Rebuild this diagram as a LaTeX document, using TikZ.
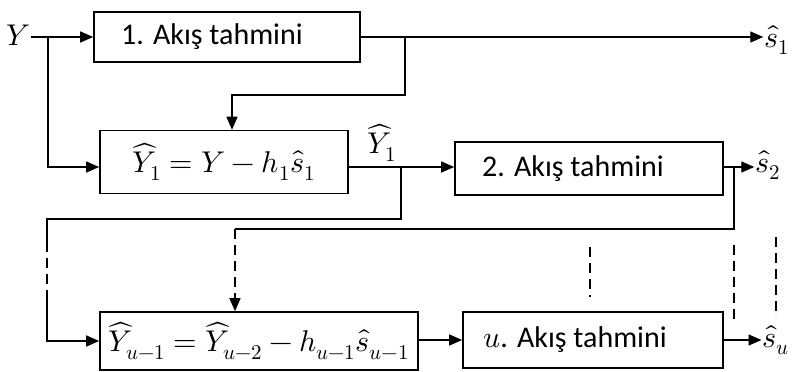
\documentclass[tikz,border=0pt]{standalone}
\usepackage{fontspec}
\usepackage{unicode-math}
\setmainfont{Carlito}
\setmathfont{Latin Modern Math}
\usetikzlibrary{arrows.meta,calc}
\begin{document}
\begin{tikzpicture}[x=1pt,y=-1pt,
  every node/.style={font=\fontsize{30}{34}\selectfont},
  blk/.style={draw,line width=1.6pt,inner sep=0pt},
  conn/.style={line width=1.4pt},
  arr/.style={conn,-{Triangle[length=13pt,width=11pt]}},
  dsh/.style={line width=1.4pt,dash pattern=on 10pt off 6pt}]
\useasboundingbox (0,0) rectangle (795,372);
% blocks
\node[blk,minimum width=266pt,minimum height=50pt] (b1) at (227,37) {1. Akış tahmini\rule{30pt}{0pt}};
\node[blk,minimum width=248pt,minimum height=63pt] (b2) at (224,162) {$\widehat{Y}_1=Y-h_1\hat{s}_1$};
\node[blk,minimum width=268pt,minimum height=53pt] (b3) at (589,168.5) {2. Akış tahmini\rule{32pt}{0pt}};
\node[blk,minimum width=318pt,minimum height=58pt] (b4) at (259,341) {$\widehat{Y}_{u-1}=\widehat{Y}_{u-2}-h_{u-1}\hat{s}_{u-1}$};
\node[blk,minimum width=260pt,minimum height=56pt] (b5) at (593,340) {$u$. Akış tahmini\rule{36pt}{0pt}};
% labels
\node[inner sep=1pt] (Y) at (18,35) {$Y$};
\node[inner sep=1pt] (s1) at (777,40) {$\hat{s}_1$};
\node[inner sep=1pt] (Y1) at (382,143) {$\widehat{Y}_1$};
\node[inner sep=1pt] (s2) at (768,165) {$\hat{s}_2$};
\node[inner sep=1pt] (su) at (776,340) {$\hat{s}_u$};
% junction coordinates
\coordinate (j1) at (48,37);
\coordinate (j2) at (405,37);
\coordinate (j2b) at (405,95);
\coordinate (j3) at (401,167);
\coordinate (j3b) at (401,219);
\coordinate (j3c) at (47,219);
\coordinate (j3d) at (47,242);
\coordinate (j3e) at (47,297);
\coordinate (j4) at (734,167);
\coordinate (j4b) at (734,229);
\coordinate (j4c) at (235,229);
% connectors
\draw[arr] (Y.east |- j1) -- (b1.west |- j1);
\draw[arr] (j1) |- (b2.west |- 0,167);
\draw[arr] (b1.east |- j1) -- (s1.west |- j1);
\draw[arr] (j2) -- (j2b) -| (b2.north -| 232,0);
\draw[arr] (b2.east |- j3) -- (b3.west |- j3);
\draw[conn] (j3) -- (j3b) -- (j3c) -- (j3d);
\draw[dsh] (j3d) -- (j3e);
\draw[arr] (j3e) |- (b4.west);
\draw[arr] (b3.east |- j4) -- (s2.west |- j4);
\draw[conn] (j4) -- (j4b) -- (j4c);
\draw[dsh,-{Triangle[length=13pt,width=11pt]}] (j4c) -- (b4.north -| j4c);
\draw[arr] (b4.east |- b5.west) -- (b5.west);
\draw[arr] (b5.east) -- (su.west |- b5.east);
% dashed continuation marks
\coordinate (d1a) at (590,247); \coordinate (d1b) at (590,297);
\coordinate (d2a) at (734,245); \coordinate (d2b) at (734,323);
\coordinate (d3a) at (776,237); \coordinate (d3b) at (776,317);
\draw[dsh] (d1a) -- (d1b);
\draw[dsh] (d2a) -- (d2b);
\draw[dsh] (d3a) -- (d3b);
\end{tikzpicture}
\end{document}
